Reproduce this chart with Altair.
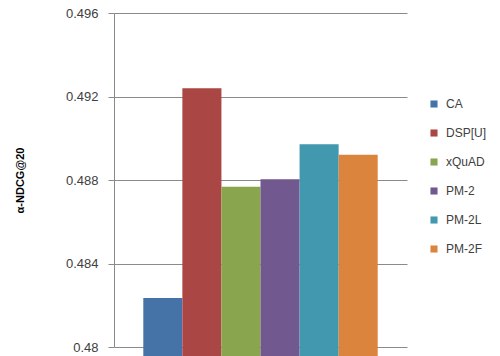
import altair as alt
import pandas as pd

methods = ["CA", "DSP[U]", "xQuAD", "PM-2", "PM-2L", "PM-2F"]
scores = [0.48235, 0.49239, 0.48768, 0.48803, 0.48971, 0.48921]
colors = ["#4572A7", "#AA4643", "#89A54E", "#71588F", "#4198AF", "#DB843D"]
y_ticks = [0.48, 0.484, 0.488, 0.492, 0.496]

df = pd.DataFrame({"method": methods, "score": scores})

FONT = "Liberation Sans"

chart = (
    alt.Chart(df)
    .mark_bar()
    .encode(
        x=alt.X(
            "method:N",
            sort=methods,
            scale=alt.Scale(paddingInner=0, paddingOuter=0.75),
            axis=None,
        ),
        y=alt.Y(
            "score:Q",
            scale=alt.Scale(domain=[0.48, 0.496], nice=False, zero=False),
            axis=alt.Axis(
                title="α-NDCG@20",
                values=y_ticks,
                format=".3~f",
                grid=True,
                gridColor="#8a8a8a",
                gridWidth=1,
                domainColor="#8a8a8a",
                tickColor="#8a8a8a",
                tickSize=6,
                labelPadding=10,
                labelFont=FONT,
                labelFontSize=13,
                labelColor="#404040",
                titleFont=FONT,
                titleFontSize=11,
                titleFontWeight="bold",
                titleColor="#000000",
                titleX=-89,
                titleY=167,
                titleAngle=-90,
            ),
        ),
        color=alt.Color(
            "method:N",
            sort=methods,
            scale=alt.Scale(domain=methods, range=colors),
            legend=alt.Legend(
                title=None,
                orient="none",
                legendX=314,
                legendY=85,
                symbolType="square",
                symbolSize=50,
                symbolStrokeWidth=0,
                labelFont=FONT,
                labelFontSize=12,
                labelColor="#404040",
                rowPadding=17,
                labelOffset=6,
            ),
        ),
    )
    .properties(
        width=293,
        height=334,
        autosize=alt.AutoSizeParams(type="none"),
        padding={"left": 114, "top": 13, "right": 93, "bottom": 9},
    )
    .configure_view(stroke=None)
)

chart.save("out.html", embed_options={"renderer": "svg", "actions": False})
